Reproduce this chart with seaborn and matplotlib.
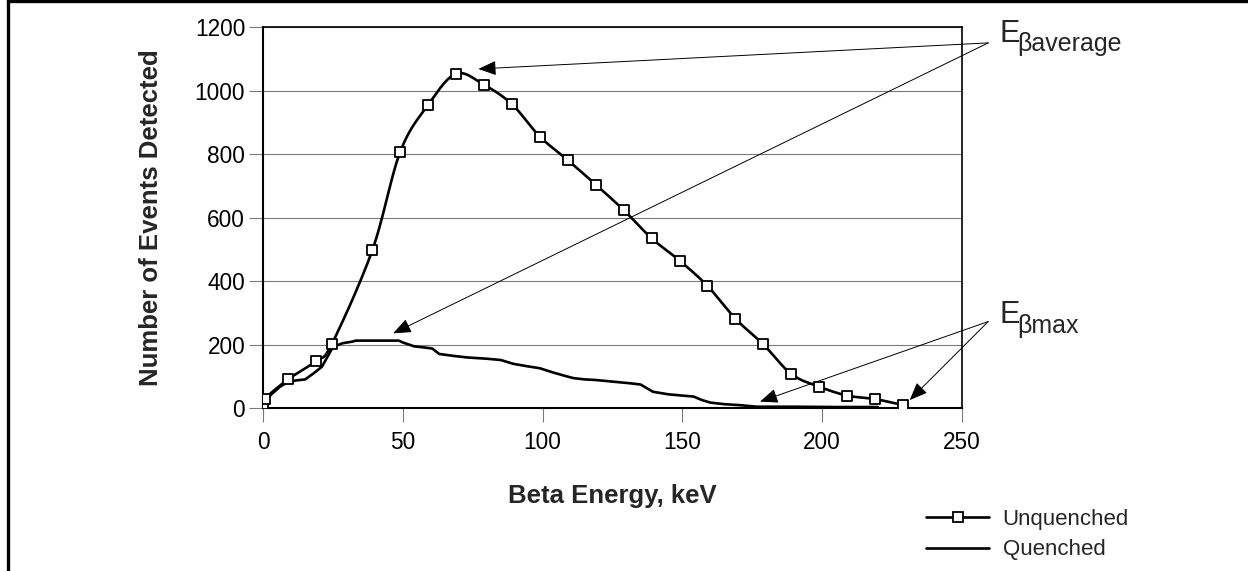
import numpy as np
import pandas as pd
import matplotlib
matplotlib.use("Agg")
import matplotlib.pyplot as plt
from matplotlib.lines import Line2D
import seaborn as sns

# ---------------- data ----------------
unq_energy = [0, 0.5, 9, 19, 24.5, 39, 49, 59, 69, 79, 89, 99, 109, 119, 129,
              139, 149, 159, 169, 179, 189, 199, 209, 219, 229]
unq_counts = [12, 30, 92, 149, 202, 497, 807, 955, 1053, 1018, 957, 855, 781, 704, 624,
              535, 465, 385, 282, 201, 108, 68, 40, 29, 10]

q_energy = [0, 3, 6, 9, 12, 15, 18, 21, 25, 28.5, 32, 33, 48.5, 50, 54, 58, 60.5, 63,
            68, 73, 80, 85, 89.5, 94, 99, 104, 108, 111, 115, 119, 125, 131, 135,
            139.5, 145, 150, 154, 157, 160, 165, 170.5, 176.5, 190, 205, 220]
q_counts = [16, 45, 68, 84, 88, 91, 110, 131, 194, 205, 210, 213, 213, 207, 195, 191, 188, 171,
            165, 160, 156, 152, 140, 133, 126, 112, 102, 95, 91, 89, 84, 79, 75,
            52, 44, 40, 37, 26, 18, 13, 10, 5, 5, 4, 4]

x_ticks = [0, 50, 100, 150, 200, 250]
y_ticks = [0, 200, 400, 600, 800, 1000, 1200]
series_labels = ["Unquenched", "Quenched"]
x_label = "Beta Energy, keV"
y_label = "Number of Events Detected"

# annotation anchor points (data coords): text converge point and arrow targets
avg_from = (259.5, 1150)
avg_targets = [(77, 1068), (46.5, 236)]
max_from = (259.5, 273)
max_targets = [(177.8, 21), (231.4, 26)]


def smooth_curve(xs, ys, n=24):
    """Excel-style smoothed line (Catmull-Rom Bezier) through the points."""
    p = np.column_stack([xs, ys]).astype(float)
    p_ext = np.vstack([p[0], p, p[-1]])
    out = []
    t = np.linspace(0, 1, n)[:, None]
    for i in range(len(p) - 1):
        p0, p1, p2, p3 = p_ext[i], p_ext[i + 1], p_ext[i + 2], p_ext[i + 3]
        b1 = p1 + (p2 - p0) / 6.0
        b2 = p2 - (p3 - p1) / 6.0
        seg = ((1 - t) ** 3) * p1 + 3 * ((1 - t) ** 2) * t * b1 + 3 * (1 - t) * t ** 2 * b2 + t ** 3 * p2
        out.append(seg if i == 0 else seg[1:])
    c = np.vstack(out)
    return c[:, 0], c[:, 1]


sx, sy = smooth_curve(unq_energy, unq_counts)
df_smooth = pd.DataFrame({"energy": sx, "counts": sy})
df_unq = pd.DataFrame({"energy": unq_energy, "counts": unq_counts})
df_q = pd.DataFrame({"energy": q_energy, "counts": q_counts})

# ---------------- style ----------------
sns.set_theme(style="white")
plt.rcParams["font.family"] = ["Liberation Sans", "DejaVu Sans"]

W, H, DPI = 1248, 571, 100
fig = plt.figure(figsize=(W / DPI, H / DPI), dpi=DPI)
fig.patch.set_facecolor("white")

x0, x1 = 263.3, 961.7
y0, y1 = 408.3, 27.0
ax = fig.add_axes([x0 / W, 1 - y0 / H, (x1 - x0) / W, (y0 - y1) / H])
ax.set_facecolor("white")

# lines
sns.lineplot(data=df_smooth, x="energy", y="counts", sort=False, estimator=None,
             color="black", lw=1.9, ax=ax, zorder=3)
sns.lineplot(data=df_q, x="energy", y="counts", sort=False, estimator=None,
             color="black", lw=1.9, ax=ax, zorder=3)
sns.scatterplot(data=df_unq, x="energy", y="counts", marker="s", s=46,
                facecolor="white", edgecolor="black", linewidth=1.3, ax=ax, zorder=4)

ax.set_xlim(0, 250)
ax.set_ylim(0, 1200)
ax.set_xticks(x_ticks)
ax.set_yticks(y_ticks)
ax.set_xlabel("")
ax.set_ylabel("")

ax.yaxis.grid(True, color="#7a7a7a", lw=0.8)
ax.xaxis.grid(False)
ax.set_axisbelow(True)
for side, sp in ax.spines.items():
    sp.set_visible(True)
    sp.set_color("black")
    sp.set_linewidth(1.5)
ax.spines["top"].set_linewidth(1.2)
ax.spines["right"].set_linewidth(1.2)

ax.tick_params(axis="both", which="major", direction="out", length=10, width=0.8,
               color="#7a7a7a", labelsize=16.3, labelcolor="black")
ax.tick_params(axis="y", pad=3)
ax.tick_params(axis="x", pad=6)
ax.tick_params(left=True, bottom=True)

# axis labels
fig.text(151 / W, 1 - 218 / H, y_label, rotation=90, ha="center", va="center",
         fontsize=18.5, fontweight="bold")
fig.text(612.5 / W, 1 - 503.5 / H, x_label, ha="center", va="baseline",
         fontsize=18.5, fontweight="bold")

# annotations
arrow_kw = dict(arrowstyle="-|>,head_length=1.1,head_width=0.45", color="black",
                lw=0.7, mutation_scale=10, shrinkA=0, shrinkB=0)
for tgt in avg_targets:
    ax.annotate("", xy=tgt, xytext=avg_from, arrowprops=arrow_kw, annotation_clip=False)
for tgt in max_targets:
    ax.annotate("", xy=tgt, xytext=max_from, arrowprops=arrow_kw, annotation_clip=False)

fig.text(999.5 / W, 1 - 41.7 / H, "E", fontsize=22, ha="left", va="baseline")
fig.text(1017 / W, 1 - 51 / H, "βaverage", fontsize=18, ha="left", va="baseline")
fig.text(999.5 / W, 1 - 323.3 / H, "E", fontsize=22, ha="left", va="baseline")
fig.text(1017 / W, 1 - 333 / H, "βmax", fontsize=18, ha="left", va="baseline")

# legend
handles = [Line2D([], [], color="black", lw=1.9, marker="s", markersize=6.5,
                  markerfacecolor="white", markeredgecolor="black", markeredgewidth=1.3),
           Line2D([], [], color="black", lw=1.9)]
fig.legend(handles, series_labels, loc="upper left", bbox_to_anchor=(926 / W, 1 - 509 / H),
           frameon=False, fontsize=16, handlelength=2.85, handletextpad=0.6,
           labelspacing=0.42, borderpad=0, borderaxespad=0)

# figure frame (left and top edges)
fig.add_artist(Line2D([8.3 / W, 8.3 / W], [0, 1], transform=fig.transFigure,
                      color="black", lw=2.4))
fig.add_artist(Line2D([8.3 / W, 1], [1 - 1.3 / H, 1 - 1.3 / H], transform=fig.transFigure,
                      color="black", lw=2.4))

fig.savefig("out.png", dpi=DPI, facecolor="white")
